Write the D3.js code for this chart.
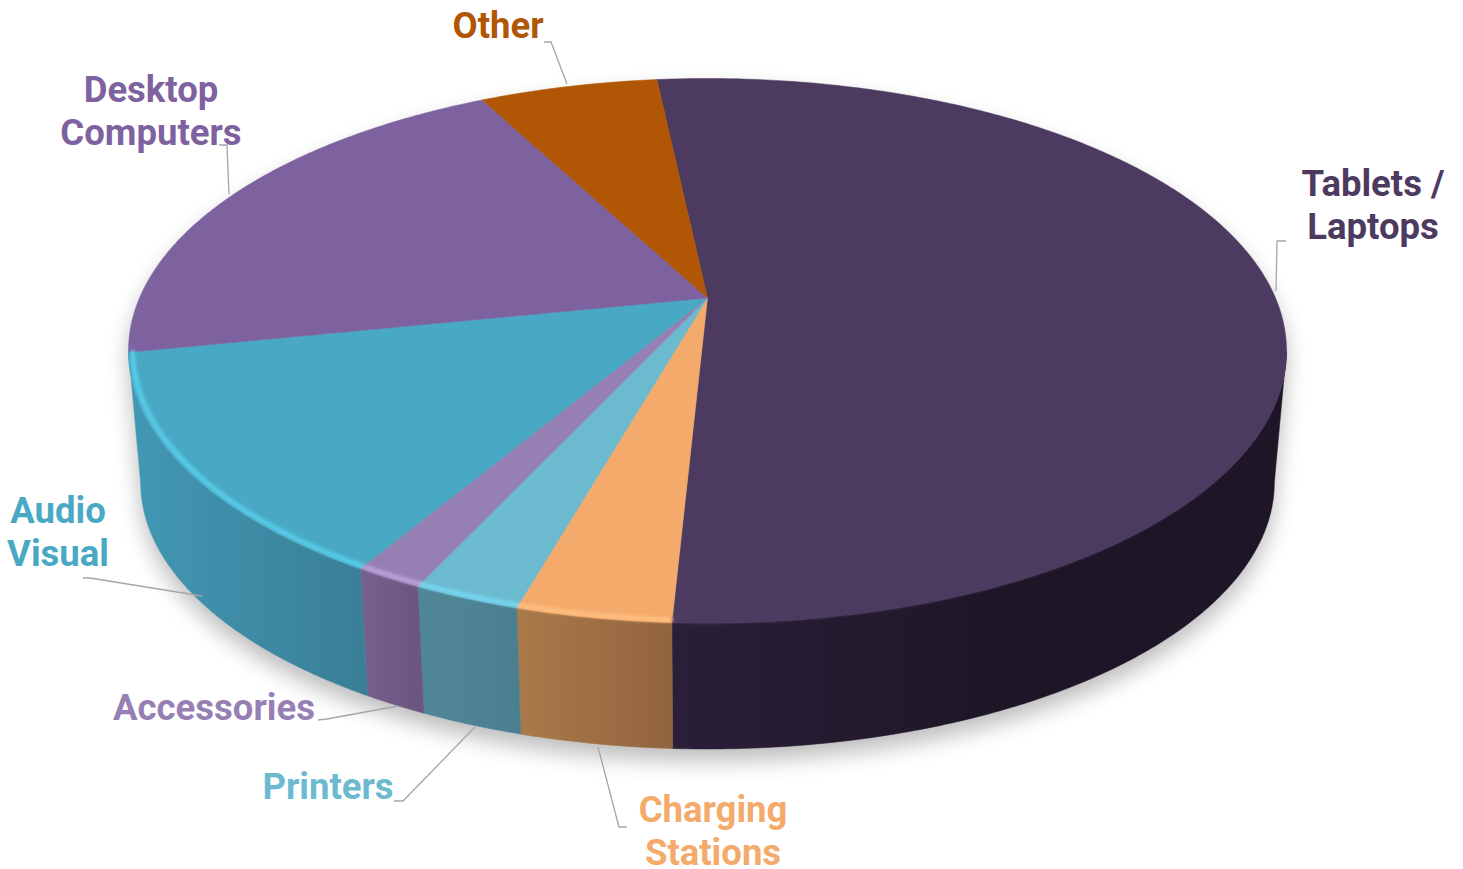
<!DOCTYPE html>
<html>
<head>
<meta charset="utf-8">
<script src="https://cdn.jsdelivr.net/npm/d3@7"></script>
<style>
  html, body { margin: 0; background: #fff; }
  svg { display: block; }
  text { font-family: Roboto, sans-serif; font-weight: 700; font-size: 36.5px; text-anchor: middle; }
</style>
</head>
<body>
<svg id="chart" width="1463" height="869"></svg>
<script>
// share of each category
const categories = ['Tablets / Laptops', 'Charging Stations', 'Printers', 'Accessories', 'Audio Visual', 'Desktop Computers', 'Other'];
const shares = [52.5, 3.6, 2.5, 1.6, 13.3, 20.5, 6.0];

const topColors = ['#4c3a60', '#f4aa6a', '#6cbad0', '#967fb2', '#49a9c5', '#7e62a0', '#b05605'];
const rimColors = ['#55426b', '#ffbd80', '#74d4ee', '#b99ed8', '#56cbe8', '#8a6cae', '#b05605'];
const wallLeft = ['#2a1f38', '#ab7a4a', '#508797', '#75618d', '#4298b4', '#6b5780', '#8a4504'];
const wallRight = ['#1e1626', '#92643e', '#4a7f90', '#6a567f', '#3a7f98', '#6b5780', '#8a4504'];

// perspective of the disc: apex, top and bottom of the rim, half width
const cx = 707.5, cy = 298, rimTop = 78.5, rimBottom = 623, halfWidth = 579;
const above = cy - rimTop, below = rimBottom - cy;
const k = (above - below) / (above + below);
const g = above * (1 - k);
const f = halfWidth * Math.sqrt(1 - k * k);

// lower rim is the upper one shrunk towards a far vanishing point
const vanishY = 6623, shrink = 0.979;

function project(angle, r = 1) {
  const x = r * Math.sin(angle), y = -r * Math.cos(angle), w = 1 + k * y;
  return [cx + f * x / w, cy + g * y / w];
}
function lower([x, y]) {
  return [cx + shrink * (x - cx), vanishY + shrink * (y - vanishY)];
}
function arcPoints(a0, a1, r = 1) {
  const n = Math.max(2, Math.ceil((a1 - a0) / 0.01));
  return d3.range(n + 1).map(i => project(a0 + (a1 - a0) * i / n, r));
}

const startAngle = -6.1 * Math.PI / 180;
const slices = d3.pie().sort(null).value(d => d)
  .startAngle(startAngle).endAngle(startAngle + 2 * Math.PI)(shares);

// only the part of the rim between the two side extremes faces the viewer
const rightExtreme = Math.acos(k), leftExtreme = 2 * Math.PI - rightExtreme;

const line = d3.line();
const svg = d3.select('#chart');
const defs = svg.append('defs');

defs.append('filter').attr('id', 'shadowBlur')
  .attr('x', '-10%').attr('y', '-10%').attr('width', '120%').attr('height', '120%')
  .append('feGaussianBlur').attr('stdDeviation', 11);
defs.append('filter').attr('id', 'rimBlur')
  .attr('x', '-10%').attr('y', '-10%').attr('width', '120%').attr('height', '120%')
  .append('feGaussianBlur').attr('stdDeviation', 1.4);

const fullRim = arcPoints(0, 2 * Math.PI);
const hull = d3.polygonHull(fullRim.concat(fullRim.map(lower)));
defs.append('clipPath').attr('id', 'discClip')
  .append('path').attr('d', line(hull) + 'Z');

// soft shadow under the disc
svg.append('path')
  .attr('d', line(hull) + 'Z')
  .attr('transform', 'translate(0,12)')
  .attr('fill', '#000').attr('opacity', 0.26)
  .attr('filter', 'url(#shadowBlur)');

// side wall, one gradient per slice
slices.forEach((s, i) => {
  const a0 = Math.max(s.startAngle, rightExtreme);
  const a1 = i === 4 ? leftExtreme : s.endAngle;
  if (i > 4) return;
  const rim = arcPoints(a0, a1);
  const xs = rim.map(p => p[0]);
  const id = 'wall' + i;
  const grad = defs.append('linearGradient').attr('id', id)
    .attr('gradientUnits', 'userSpaceOnUse')
    .attr('x1', i === 0 ? 680 : d3.min(xs)).attr('x2', i === 0 ? 1000 : d3.max(xs))
    .attr('y1', 0).attr('y2', 0);
  grad.append('stop').attr('offset', 0).attr('stop-color', wallLeft[i]);
  grad.append('stop').attr('offset', 1).attr('stop-color', wallRight[i]);
  svg.append('path')
    .attr('d', line(rim.concat(rim.map(lower).reverse())) + 'Z')
    .attr('fill', `url(#${id})`)
    .attr('stroke', `url(#${id})`).attr('stroke-width', 0.5);
});

// top face
slices.forEach((s, i) => {
  svg.append('path')
    .attr('d', line([[cx, cy]].concat(arcPoints(s.startAngle, s.endAngle))) + 'Z')
    .attr('fill', topColors[i])
    .attr('stroke', topColors[i]).attr('stroke-width', 0.5);
});

// bevel along the front of the rim
const bevel = svg.append('g').attr('clip-path', 'url(#discClip)')
  .append('g').attr('filter', 'url(#rimBlur)').attr('fill', 'none');
slices.forEach((s, i) => {
  if (i > 4) return;
  const a0 = Math.max(s.startAngle, rightExtreme);
  const a1 = i === 4 ? leftExtreme : s.endAngle;
  bevel.append('path')
    .attr('d', line(arcPoints(a0, a1, 0.993)))
    .attr('stroke', i === 0 ? topColors[0] : rimColors[i])
    .attr('stroke-width', i === 0 ? 6 : 5);
});

// leader lines
const leaders = [
  [[1286, 241], [1277, 241], [1276, 291]],
  [[627, 827], [619, 827], [598, 747]],
  [[394, 801], [403, 801], [475, 727]],
  [[318, 720], [327, 719], [398, 706]],
  [[83, 578], [90, 578], [202, 596]],
  [[219, 145], [227, 145], [229, 194]],
  [[544, 42], [551, 42], [567, 84]]
];
svg.append('g').selectAll('path').data(leaders).join('path')
  .attr('d', d => line(d))
  .attr('fill', 'none').attr('stroke', '#a6a6a6').attr('stroke-width', 1.3);

// labels
const labelLines = [['Tablets /', 'Laptops'], ['Charging', 'Stations'], ['Printers'], ['Accessories'], ['Audio', 'Visual'], ['Desktop', 'Computers'], ['Other']];
const labelX = [1373, 713, 328, 214, 58, 151, 498];
const labelY = [196, 822, 799, 720, 523, 102, 38];
const labelColors = ['#4c3a60', '#f4aa6a', '#6cbad0', '#967fb2', '#49a9c5', '#7e62a0', '#b05605'];

labelLines.forEach((lines, i) => {
  lines.forEach((t, j) => {
    svg.append('text')
      .attr('x', labelX[i]).attr('y', labelY[i] + j * 43)
      .attr('fill', labelColors[i])
      .text(t);
  });
});
</script>
</body>
</html>
